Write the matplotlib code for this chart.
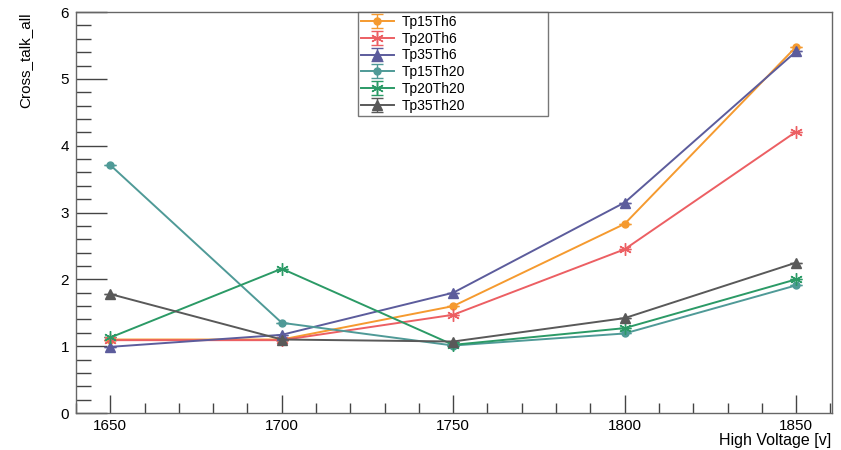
import numpy as np
import matplotlib.pyplot as plt
from matplotlib.ticker import MultipleLocator

plt.rcParams['font.family'] = ['Liberation Sans', 'DejaVu Sans']

# Napiecie (os X)
hv = [1650, 1700, 1750, 1800, 1850]

# Wartosci cross talk dla kazdej konfiguracji
tp15th6 = [1.10, 1.10, 1.60, 2.83, 5.48]
tp20th6 = [1.09, 1.09, 1.47, 2.45, 4.21]
tp35th6 = [0.99, 1.17, 1.80, 3.15, 5.41]
tp15th20 = [3.71, 1.35, 1.01, 1.19, 1.91]
tp20th20 = [1.13, 2.16, 1.02, 1.27, 2.00]
tp35th20 = [1.78, 1.10, 1.07, 1.42, 2.25]

labels = ['Tp15Th6', 'Tp20Th6', 'Tp35Th6', 'Tp15Th20', 'Tp20Th20', 'Tp35Th20']
series = [tp15th6, tp20th6, tp35th6, tp15th20, tp20th20, tp35th20]
colors = ['#f59a2f', '#ec5f63', '#5c5c9c', '#4f9a97', '#2b9a66', '#595959']
star = (6, 2, 0)
markers = ['o', star, '^', 'o', star, '^']
msizes = [5, 9, 7, 5, 9, 7]

fig = plt.figure(figsize=(8.41, 4.5), dpi=100)
ax = fig.add_axes([0.0904, 0.0822, 0.899, 0.891])

for y, lab, c, m, ms in zip(series, labels, colors, markers, msizes):
    ax.errorbar(hv, y, yerr=np.zeros(len(y)), color=c, marker=m, markersize=ms,
                lw=1.4, capsize=4, elinewidth=1.0, label=lab,
                markeredgecolor=c, markeredgewidth=1.0)

ax.set_xlim(1640, 1860.5)
ax.set_ylim(0, 6)
ax.xaxis.set_major_locator(MultipleLocator(50))
ax.xaxis.set_minor_locator(MultipleLocator(10))
ax.yaxis.set_major_locator(MultipleLocator(1))
ax.yaxis.set_minor_locator(MultipleLocator(0.2))
ax.tick_params(axis='x', which='major', direction='in', length=13, width=1, labelsize=11, pad=4, color='#444444')
ax.tick_params(axis='x', which='minor', direction='in', length=7, width=1, color='#444444')
ax.tick_params(axis='y', which='major', direction='in', length=22, width=1, labelsize=11, pad=5, color='#444444')
ax.tick_params(axis='y', which='minor', direction='in', length=11, width=1, color='#444444')
for s in ax.spines.values():
    s.set_color('#666666')
    s.set_linewidth(1.0)

leg = ax.legend(loc='upper left', bbox_to_anchor=(0.373, 0.0, 0.251, 1.0), mode='expand',
                fontsize=10, frameon=True, fancybox=False, edgecolor='#555555',
                handlelength=2.4, handletextpad=0.55, labelspacing=0.2,
                borderpad=0.2, borderaxespad=0)
leg.get_frame().set_linewidth(1.0)

fig.text(0.03, 0.973, 'Cross_talk_all', rotation=90, ha='center', va='top', fontsize=11)
fig.text(0.988, 0.004, 'High Voltage [v]', ha='right', va='bottom', fontsize=11.5)

plt.savefig('out.png', dpi=100)
